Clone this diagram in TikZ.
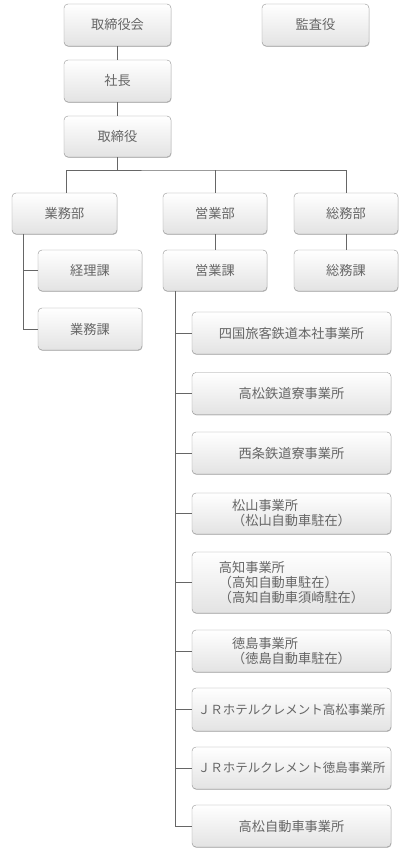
\documentclass[tikz,border=0pt]{standalone}
\usepackage{fontspec}
\newfontfamily\jp{Noto Sans CJK JP}
\usetikzlibrary{shadows}
\begin{document}
\begin{tikzpicture}[x=1pt,y=-1pt,
  box/.style={draw=black!42, rounded corners=4pt, top color=white, bottom color=black!11,
    text=black!60, font=\jp\fontsize{13.2}{15}\selectfont, inner sep=0pt, align=left,
    drop shadow={shadow xshift=0.4pt, shadow yshift=-0.8pt, opacity=0.25, fill=black}},
  narrow/.style={font=\jp\fontsize{12.5}{15}\selectfont},
  line/.style={draw=black!60, line width=0.7pt}]
\useasboundingbox (0,0) rectangle (400,850);
% top
\node[box, minimum width=107pt, minimum height=42pt] (torikai) at (117.5,25) {取締役会};
\node[box, minimum width=107pt, minimum height=42pt] (kansa) at (315.5,25) {監査役};
\node[box, minimum width=107pt, minimum height=42pt] (shacho) at (117.5,81) {社長};
\node[box, minimum width=107pt, minimum height=41pt] (tori) at (117.5,136.5) {取締役};
% departments
\node[box, minimum width=105pt, minimum height=41pt] (gyomubu) at (64.5,213.5) {業務部};
\node[box, minimum width=104pt, minimum height=41pt] (eigyobu) at (215,213.5) {営業部};
\node[box, minimum width=104pt, minimum height=41pt] (somubu) at (346,213.5) {総務部};
% sections
\node[box, minimum width=104pt, minimum height=41pt] (keiri) at (90,270.5) {経理課};
\node[box, minimum width=104pt, minimum height=42pt] (gyomuka) at (90,329) {業務課};
\node[box, minimum width=104pt, minimum height=41pt] (eigyoka) at (215,270.5) {営業課};
\node[box, minimum width=104pt, minimum height=41pt] (somuka) at (346,270.5) {総務課};
% offices
\node[box, minimum width=199pt, minimum height=42pt] (o1) at (291.5,333) {四国旅客鉄道本社事業所};
\node[box, minimum width=199pt, minimum height=42pt] (o2) at (291.5,393.5) {高松鉄道寮事業所};
\node[box, minimum width=199pt, minimum height=42pt] (o3) at (291.5,453) {西条鉄道寮事業所};
\node[box, minimum width=199pt, minimum height=41pt] (o4) at (291.5,513.5) {松山事業所\\（松山自動車駐在）};
\node[box, minimum width=199pt, minimum height=61pt] (o5) at (291.5,582.5) {高知事業所\\（高知自動車駐在）\\（高知自動車須崎駐在）};
\node[box, minimum width=199pt, minimum height=42pt] (o6) at (291.5,651) {徳島事業所\\（徳島自動車駐在）};
\node[box, narrow, minimum width=199pt, minimum height=43pt] (o7) at (291.5,709.5) {ＪＲホテルクレメント高松事業所};
\node[box, narrow, minimum width=199pt, minimum height=42pt] (o8) at (291.5,768) {ＪＲホテルクレメント徳島事業所};
\node[box, minimum width=199pt, minimum height=42pt] (o9) at (291.5,826) {高松自動車事業所};
% connectors
\coordinate (bus) at (0,170);
\path[line] (torikai) -- (shacho);
\path[line] (shacho) -- (tori);
\path[line] (tori.south) -- (tori.south |- bus);
\path[line] ([xshift=2pt]gyomubu.north) |- (bus -| eigyobu.north) -| (somubu.north);
\path[line] (eigyobu.north) -- (eigyobu.north |- bus);
\path[line] (eigyobu) -- (eigyoka);
\path[line] (somubu) -- (somuka);
\path[line] ([xshift=12pt]gyomubu.south west) |- (keiri.west);
\path[line] ([xshift=12pt]gyomubu.south west) |- (gyomuka.west);
\foreach \o in {o1,o2,o3,o4,o5,o6,o7,o8,o9}{
  \path[line] ([xshift=13pt]eigyoka.south west) |- (\o.west);
}
\end{tikzpicture}
\end{document}
